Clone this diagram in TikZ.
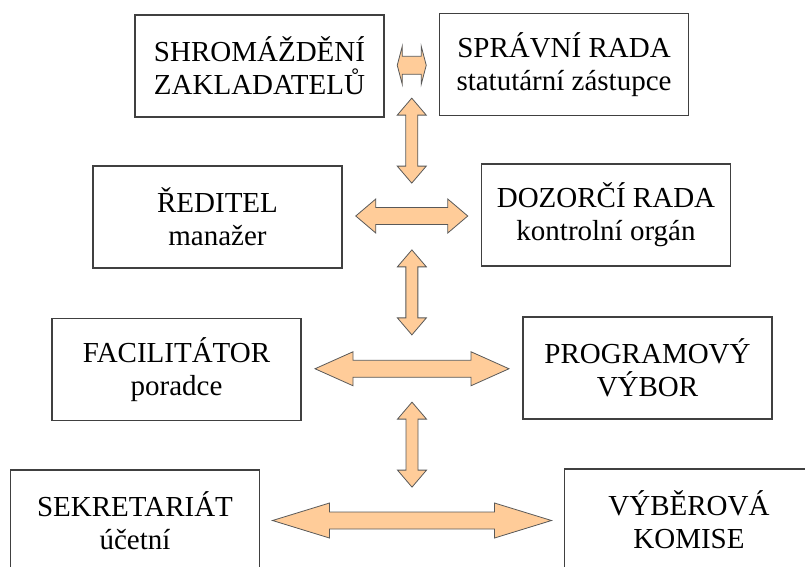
\documentclass[tikz,border=0pt]{standalone}
\usepackage{fontspec}
\setmainfont{Liberation Serif}
\usetikzlibrary{calc}
\definecolor{peach}{RGB}{255,204,153}

\tikzset{
	box/.style={draw=black!75, line width=1.1pt, minimum width=249pt, minimum height=102pt,
		align=center, font=\fontsize{29}{33}\selectfont},
	pics/dblarrow/.style n args={4}{
		code={
			% #1 half length, #2 head length, #3 half shaft, #4 half head
			\draw[fill=peach, draw=black!65, line width=0.8pt]
				(-#1,0)
				-- (-#1+#2,#4) -- (-#1+#2,#3)
				-- (#1-#2,#3) -- (#1-#2,#4)
				-- (#1,0)
				-- (#1-#2,-#4) -- (#1-#2,-#3)
				-- (-#1+#2,-#3) -- (-#1+#2,-#4)
				-- cycle;
		}% code
	}% pic style
}%tikzset

\begin{document}
\begin{tikzpicture}[x=1pt,y=-1pt]
\useasboundingbox (0,0) rectangle (805,566);

% boxes
\node[box] (shrom) at (259.5,66) {SHROMÁŽDĚNÍ\\ZAKLADATELŮ};
\node[box] (sprava) at (564,64.5) {SPRÁVNÍ RADA\\statutární zástupce};
\node[box] (reditel) at (217.5,217) {ŘEDITEL\\manažer};
\node[box] (dozor) at (606,215) {DOZORČÍ RADA\\kontrolní orgán};
\node[box] (facil) at (176.5,369.5) {FACILITÁTOR\\poradce};
\node[box] (program) at (647.5,368) {PROGRAMOVÝ\\VÝBOR};
\node[box] (sekret) at (135,521) {SEKRETARIÁT\\účetní};
\node[box] (vyber) at (689,520) {VÝBĚROVÁ\\KOMISE};

% arrow centres
\coordinate (midA) at ($(shrom.east)!0.5!(sprava.west)$);
\coordinate (midB) at ($(reditel.east)!0.5!(dozor.west)$);
\coordinate (midC) at ($(facil.east)!0.5!(program.west)$);
\coordinate (midD) at ($(sekret.east)!0.5!(vyber.west)$);

% horizontal arrows
\pic at (midA) {dblarrow={14.5}{5}{9}{19}};
\pic at (midB) {dblarrow={56}{20}{8.5}{17}};
\pic at (midC) {dblarrow={97}{38}{8.5}{17}};
\pic at (midD) {dblarrow={139.5}{57}{8.5}{17.5}};

% vertical arrows
\pic [rotate=90] at ($(midA)!0.5!(midB)$) {dblarrow={42.5}{17}{6}{14.5}};
\pic [rotate=90] at ($(midB)!0.5!(midC)$) {dblarrow={42.5}{17}{6}{14.5}};
\pic [rotate=90] at ($(midC)!0.5!(midD)$) {dblarrow={42.5}{17}{6}{14.5}};

\end{tikzpicture}
\end{document}
